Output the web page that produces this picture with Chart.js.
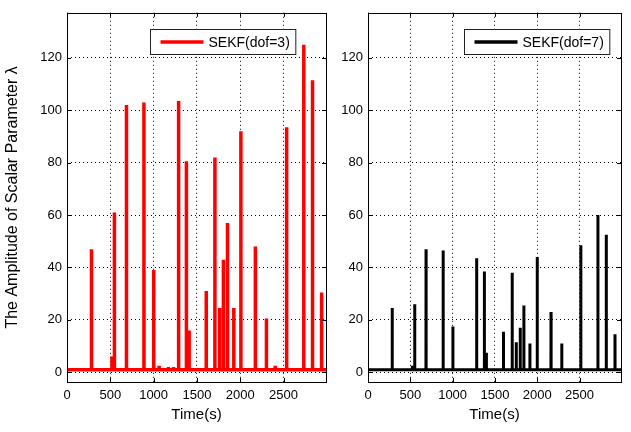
<!DOCTYPE html>
<html>
<head>
<meta charset="utf-8">
<script src="https://cdn.jsdelivr.net/npm/chart.js@4.4.0/dist/chart.umd.min.js"></script>
<style>
    body { margin: 0; background: #fff; width: 631px; height: 432px; overflow: hidden; position: relative; }
    .panel { position: absolute; top: 0; height: 432px; }
    #leftPanel { left: 0; width: 340px; }
    #rightPanel { left: 340px; width: 291px; }
</style>
</head>
<body>
<div class="panel" id="leftPanel"><canvas id="chartDof3" width="340" height="432"></canvas></div>
<div class="panel" id="rightPanel"><canvas id="chartDof7" width="291" height="432"></canvas></div>
<script>
// #region data
const timeEnd = 2990;
const baseline = 1;

const xTicks = [0, 500, 1000, 1500, 2000, 2500];
const yTicks = [0, 20, 40, 60, 80, 100, 120];

// dof = 3 : spike times (s) and lambda amplitude
const spikeTimes3 = [282, 519, 547, 686, 888, 1001, 1063, 1170, 1230, 1288, 1378, 1409, 1607, 1707,
    1762, 1805, 1852, 1925, 2007, 2174, 2302, 2403, 2535, 2733, 2834, 2939];
const spikeHeights3 = [47, 6, 61, 102, 103, 39, 2.5, 2, 2, 103.5, 80.5, 16, 31, 82,
    24.5, 43, 57, 24.5, 92, 48, 20.5, 2.5, 93.5, 125, 111.5, 30.5];

// dof = 7
const spikeTimes7 = [286, 524, 552, 686, 888, 1003, 1284, 1375, 1399, 1601, 1704, 1752, 1799,
    1842, 1913, 2000, 2163, 2290, 2515, 2717, 2816, 2919];
const spikeHeights7 = [24.5, 2.5, 26, 47, 46.5, 17.5, 43.5, 38.5, 7.5, 15.5, 38, 11.5, 17,
    25.5, 11, 44, 23, 11, 48.5, 60, 52.5, 14.5];
// #endregion data


function buildSeries(times, heights) {
    const pts = [{ x: 0, y: baseline }];
    times.forEach((t, i) => {
        pts.push({ x: t - 1, y: baseline });
        pts.push({ x: t, y: heights[i] });
        pts.push({ x: t + 1, y: baseline });
    });
    pts.push({ x: timeEnd, y: baseline });
    return pts;
}

const FONT = '"Liberation Sans", Arial, Helvetica, sans-serif';

// box round the plot, inward ticks on all four sides, boxed legend
const framePlugin = {
    id: 'frame',
    afterDraw(chart, args, opts) {
        const { ctx, chartArea: a, scales } = chart;
        ctx.save();
        ctx.strokeStyle = '#000';
        ctx.lineWidth = 1;
        ctx.setLineDash([]);
        ctx.strokeRect(Math.round(a.left) + 0.5, Math.round(a.top) + 0.5,
            Math.round(a.right - a.left), Math.round(a.bottom - a.top));

        const tl = 4;
        ctx.beginPath();
        xTicks.forEach(v => {
            const px = Math.round(scales.x.getPixelForValue(v)) + 0.5;
            ctx.moveTo(px, a.bottom); ctx.lineTo(px, a.bottom - tl);
            ctx.moveTo(px, a.top); ctx.lineTo(px, a.top + tl);
        });
        yTicks.forEach(v => {
            const py = Math.round(scales.y.getPixelForValue(v)) + 0.5;
            ctx.moveTo(a.left, py); ctx.lineTo(a.left + tl, py);
            ctx.moveTo(a.right, py); ctx.lineTo(a.right - tl, py);
        });
        ctx.stroke();

        // legend
        const ds = chart.data.datasets[0];
        ctx.font = '14px ' + FONT;
        const tw = ctx.measureText(ds.label).width;
        const w = 10 + 43 + 5 + tw + 6;
        const h = 25;
        const bx = Math.round(a.right - opts.legendRight - w) + 0.5;
        const by = Math.round(a.top + 16) + 0.5;
        ctx.fillStyle = '#fff';
        ctx.fillRect(bx, by, w, h);
        ctx.strokeStyle = '#222';
        ctx.strokeRect(bx, by, w, h);
        ctx.beginPath();
        ctx.strokeStyle = ds.borderColor;
        ctx.lineWidth = 3.5;
        ctx.moveTo(bx + 10, by + h / 2);
        ctx.lineTo(bx + 53, by + h / 2);
        ctx.stroke();
        ctx.fillStyle = '#000';
        ctx.textBaseline = 'middle';
        ctx.fillText(ds.label, bx + 58, by + h / 2 + 1);
        ctx.restore();
    }
};

function makeChart(canvasId, label, color, width, times, heights, yTitle, yWidth, padRight, legendRight) {
    return new Chart(document.getElementById(canvasId), {
        type: 'line',
        data: {
            datasets: [{
                label: label,
                data: buildSeries(times, heights),
                borderColor: color,
                borderWidth: width,
                borderJoinStyle: 'bevel',
                pointRadius: 0,
                tension: 0,
                fill: false
            }]
        },
        options: {
            responsive: false,
            animation: false,
            devicePixelRatio: 1,
            layout: { padding: { left: 0, top: 5, right: padRight, bottom: 0 } },
            plugins: {
                legend: { display: false },
                tooltip: { enabled: false },
                frame: { legendRight: legendRight }
            },
            scales: {
                x: {
                    type: 'linear',
                    min: 0,
                    max: timeEnd,
                    afterBuildTicks: s => { s.ticks = xTicks.map(v => ({ value: v })); },
                    afterFit: s => { s.height = 50; },
                    grid: { color: '#000', lineWidth: 1, drawTicks: false },
                    border: { display: false, dash: [1, 3] },
                    ticks: {
                        color: '#000', font: { family: FONT, size: 13 }, padding: 6, maxRotation: 0,
                        callback: v => String(v)
                    },
                    title: {
                        display: true, text: 'Time(s)', color: '#000',
                        font: { family: FONT, size: 15 }, padding: { top: 0, bottom: 8 }
                    }
                },
                y: {
                    min: -3.7,
                    max: 137.2,
                    afterBuildTicks: s => { s.ticks = yTicks.map(v => ({ value: v })); },
                    afterFit: s => { s.width = yWidth; },
                    grid: { color: '#000', lineWidth: 1, drawTicks: false },
                    border: { display: false, dash: [1, 3] },
                    ticks: {
                        color: '#000', font: { family: FONT, size: 13 }, padding: 5,
                        callback: v => String(v)
                    },
                    title: {
                        display: !!yTitle, text: yTitle, color: '#000',
                        font: { family: FONT, size: 16 }, padding: { top: 3, bottom: 0 }
                    }
                }
            }
        },
        plugins: [framePlugin]
    });
}

makeChart('chartDof3', 'SEKF(dof=3)', '#ff0000', 3.5, spikeTimes3, spikeHeights3,
    'The Amplitude of Scalar Parameter λ', 67, 14, 31);
makeChart('chartDof7', 'SEKF(dof=7)', '#000000', 3, spikeTimes7, spikeHeights7,
    '', 28, 10, 12);
</script>
</body>
</html>
